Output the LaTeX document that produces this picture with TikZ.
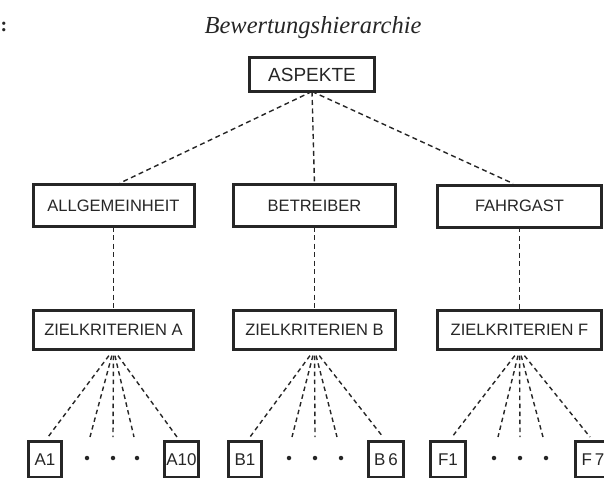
\documentclass[tikz,border=0pt]{standalone}
\usepackage{fontspec}
\setsansfont{Liberation Sans}
\newfontfamily\titlefont{Liberation Serif}
\usetikzlibrary{calc}
\definecolor{ink}{gray}{0.15}
\begin{document}
\begin{tikzpicture}[x=1pt,y=-1pt,
  box/.style={draw=ink, line width=3pt, rectangle, inner sep=0pt, outer sep=0pt, text=ink,
    font=\sffamily\fontsize{16.5}{16.5}\selectfont},
  topbox/.style={box, font=\sffamily\fontsize{19}{19}\selectfont},
  leaf/.style={box, font=\sffamily\fontsize{17}{17}\selectfont, minimum height=36pt},
  conn/.style={draw=ink, line width=1.4pt, dash pattern=on 5pt off 3.5pt},
  fan/.style={draw=ink, line width=1.4pt, dash pattern=on 4.5pt off 3.5pt},
  dot/.style={circle, fill=ink, inner sep=0pt, minimum size=4.5pt}]
\useasboundingbox (0,0) rectangle (604,477);
\clip (0,0) rectangle (604,477);

% title
\node[anchor=base, font=\titlefont\itshape\fontsize{24.5}{24.5}\selectfont, text=ink] (title) at (313,33) {Bewertungshierarchie};
\node[anchor=base, font=\titlefont\bfseries\fontsize{20}{20}\selectfont, text=ink] (colon) at (4,31) {:};

% boxes
\node[topbox, minimum width=125pt, minimum height=34pt] (asp) at (312,74.5) {ASPEKTE};

\node[box, minimum width=161pt, minimum height=42pt] (al) at (113.5,205.5) {ALLGEMEINHEIT};
\node[box, minimum width=162pt, minimum height=42pt] (be) at (314.5,205.5) {BETREIBER};
\node[box, minimum width=164pt, minimum height=42pt] (fa) at (519.5,206) {FAHRGAST};

\node[box, minimum width=160pt, minimum height=39pt] (za) at (113.5,330) {ZIELKRITERIEN A};
\node[box, minimum width=162pt, minimum height=39pt] (zb) at (314.5,330) {ZIELKRITERIEN B};
\node[box, minimum width=164pt, minimum height=39pt] (zf) at (519.5,330) {ZIELKRITERIEN F};

% leaves
\node[leaf, minimum width=33pt] (a1) at (45,459.5) {A1};
\node[leaf, minimum width=34pt] (a10) at (181.5,459.5) {A10};
\node[leaf, minimum width=33pt] (b1) at (245,459.5) {B1};
\node[leaf, minimum width=35pt] (b6) at (386,459.5) {B\,6};
\node[leaf, minimum width=35pt] (f1) at (448,459.5) {F1};
\node[leaf, minimum width=35pt] (f7) at (593,459.5) {F\,7};

% dots
\node[dot] (da1) at (87,458) {};
\node[dot] (da2) at (113,458) {};
\node[dot] (da3) at (137,458) {};
\node[dot] (db1) at (289,458) {};
\node[dot] (db2) at (315,458) {};
\node[dot] (db3) at (341,458) {};
\node[dot] (df1) at (494,458) {};
\node[dot] (df2) at (520,458) {};
\node[dot] (df3) at (546,458) {};

% level-1 connectors
\coordinate (tal) at (120,183);
\coordinate (tfa) at (513,183.5);
\draw[conn] (asp.south) -- (tal);
\draw[conn] (asp.south) -- (be.north);
\draw[conn] (asp.south) -- (tfa);

% vertical connectors
\draw[conn] (al.south) -- (za.north);
\draw[conn] (be.south) -- (zb.north);
\draw[conn] (fa.south) -- (zf.north);

% fan ends
\coordinate (ea1) at (48,437);
\coordinate (ma1) at (90,437);
\coordinate (ma2) at (113,437);
\coordinate (ma3) at (134,437);
\coordinate (ea10) at (177,437);
\coordinate (eb1) at (250,437);
\coordinate (mb1) at (292,437);
\coordinate (mb2) at (315,437);
\coordinate (mb3) at (337,437);
\coordinate (eb6) at (383,437);
\coordinate (ef1) at (452,437);
\coordinate (mf1) at (498,437);
\coordinate (mf2) at (520,437);
\coordinate (mf3) at (543,437);
\coordinate (ef7) at (590,437);

\foreach \e in {ea1,ma1,ma2,ma3,ea10}
  \draw[fan] ($(za.south)!0.07!(\e)$) -- (\e);
\foreach \e in {eb1,mb1,mb2,mb3,eb6}
  \draw[fan] ($(zb.south)!0.07!(\e)$) -- (\e);
\foreach \e in {ef1,mf1,mf2,mf3,ef7}
  \draw[fan] ($(zf.south)!0.07!(\e)$) -- (\e);
\end{tikzpicture}
\end{document}
